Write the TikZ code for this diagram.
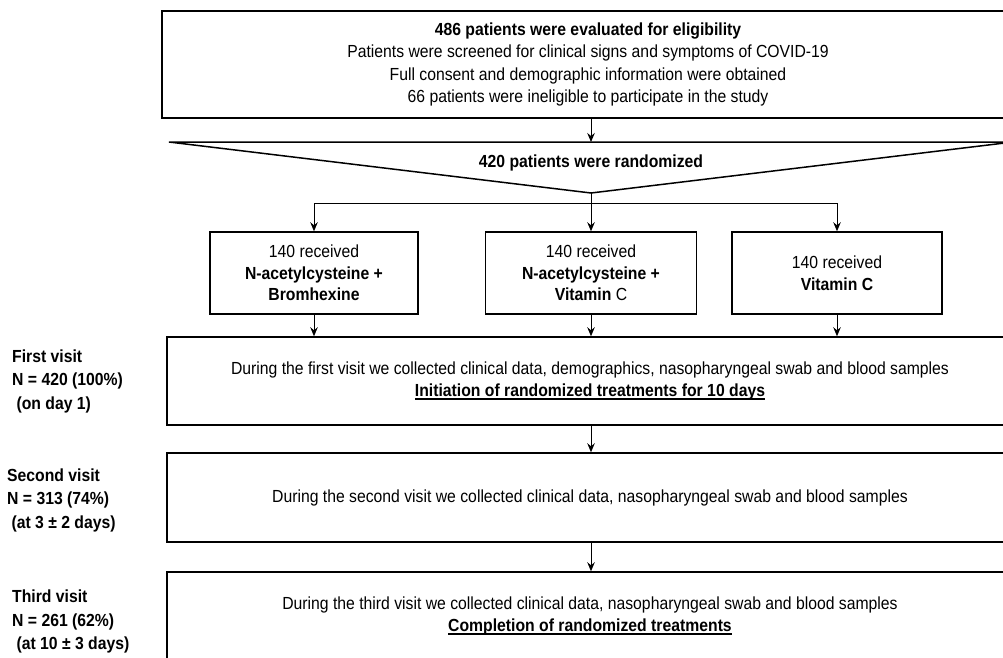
\documentclass[tikz,border=0pt]{standalone}
\usepackage{fontspec}
\setmainfont{Liberation Sans}[FakeStretch=0.9]
\usetikzlibrary{arrows.meta}
\newcommand\ulbox[1]{\setbox0\hbox{#1}\rlap{\rule[-2.8pt]{\wd0}{1.1pt}}\box0}
\begin{document}
\begin{tikzpicture}[x=1pt,y=-1pt,
  box/.style={draw, line width=1.5pt, inner sep=0pt, align=center,
    font=\fontsize{17.5}{22.5}\selectfont},
  smallbox/.style={box, minimum height=82pt, font=\fontsize{17.5}{21.5}\selectfont},
  arr/.style={-{Stealth[length=9pt,width=7.5pt,inset=3pt]}, line width=0.9pt},
  conn/.style={line width=0.9pt},
  lbl/.style={anchor=west, align=left, inner sep=0pt,
    font=\bfseries\fontsize{17.5}{23.5}\selectfont}]
\useasboundingbox (0,0) rectangle (1003,657);
\begin{scope}
\clip (0,0) rectangle (1003,657);
% eligibility box
\node[box, minimum width=852pt, minimum height=107pt] (elig) at (588,64.5)
  {\textbf{486 patients were evaluated for eligibility}\\
   Patients were screened for clinical signs and symptoms of COVID-19\\
   Full consent and demographic information were obtained\\
   66 patients were ineligible to participate in the study};
% randomization triangle
\coordinate (tl) at (169,142);
\coordinate (tr) at (1013,142);
\coordinate (apex) at (591,193);
\draw[line width=1.5pt] (tl) -- (tr) -- (apex) -- cycle;
\node[inner sep=0pt, font=\bfseries\fontsize{17.5}{21}\selectfont] (rand) at (591,163)
  {420 patients were randomized};
\draw[arr] (apex |- elig.south) -- (apex |- tl);
% treatment arms
\node[smallbox, minimum width=208pt] (b1) at (314,273)
  {140 received\\ \textbf{N-acetylcysteine +}\\ \textbf{Bromhexine}};
\node[smallbox, minimum width=211pt] (b2) at (591,273)
  {140 received\\ \textbf{N-acetylcysteine +}\\ \textbf{Vitamin} C};
\node[smallbox, minimum width=210pt] (b3) at (837,273)
  {140 received\\ \textbf{Vitamin C}};
\coordinate (sp) at (591,203);
\draw[conn] (b1.north |- sp) -- (b3.north |- sp);
\draw[arr] (apex) -- (b2.north);
\draw[arr] (b1.north |- sp) -- (b1.north);
\draw[arr] (b3.north |- sp) -- (b3.north);
% visits
\node[box, minimum width=846pt, minimum height=88pt] (v1) at (590,381)
  {During the first visit we collected clinical data, demographics, nasopharyngeal swab and blood samples\\
   \ulbox{\bfseries Initiation of randomized treatments for 10 days}};
\node[box, minimum width=846pt, minimum height=89pt] (v2) at (590,497.5)
  {During the second visit we collected clinical data, nasopharyngeal swab and blood samples};
\node[box, minimum width=846pt, minimum height=88pt] (v3) at (590,616)
  {During the third visit we collected clinical data, nasopharyngeal swab and blood samples\\
   \ulbox{\bfseries Completion of randomized treatments}};
\draw[arr] (b1.south) -- (b1.south |- v1.north);
\draw[arr] (b2.south) -- (b2.south |- v1.north);
\draw[arr] (b3.south) -- (b3.south |- v1.north);
\draw[arr] (apex |- v1.south) -- (apex |- v2.north);
\draw[arr] (apex |- v2.south) -- (apex |- v3.north);
% visit labels
\node[lbl] (l1) at (12,381) {First visit\\ N = 420 (100\%)\\ \ (on day 1)};
\node[lbl] (l2) at (7,500) {Second visit\\ N = 313 (74\%)\\ \ (at 3 ± 2 days)};
\node[lbl] (l3) at (12,621.5) {Third visit\\ N = 261 (62\%)\\ \ (at 10 ± 3 days)};
\end{scope}
\end{tikzpicture}
\end{document}
